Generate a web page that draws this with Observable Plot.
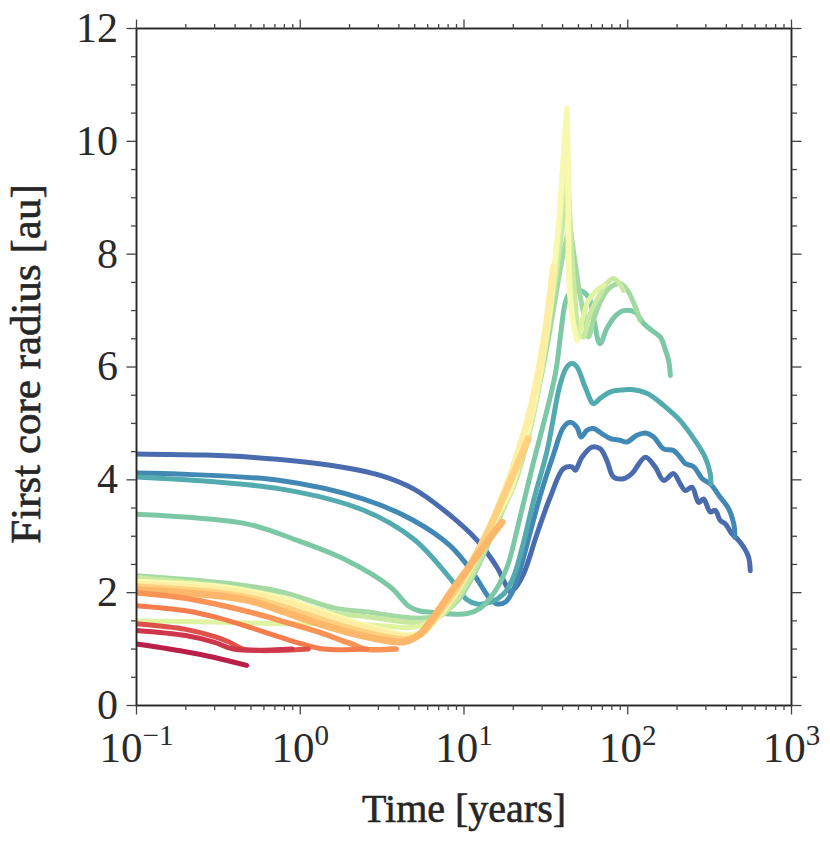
<!DOCTYPE html>
<html><head><meta charset="utf-8">
<script src="https://cdn.jsdelivr.net/npm/d3@7"></script>
<script src="https://cdn.jsdelivr.net/npm/@observablehq/plot@0.6"></script>
<style>body{margin:0;background:#fff}</style>
</head><body>
<div id="chart"></div>
<script>
// ---- data: time [years] and first core radius [au] per simulation ----
const dbT = [0.1, 0.25, 0.5, 1.52, 3.08, 4.92, 8.25, 12.0, 15.9, 18.0, 19.1, 20.5, 23.1, 27.9, 33.6, 40.5, 45.6, 47.8, 52.5, 60.4, 67.9, 74.6, 81.9, 94.3, 106, 128, 147, 165.5, 190.5, 209, 224.6, 246.6, 270.7, 290.4, 319, 342, 367, 394, 433, 464, 510, 547, 560];
const dbR = [4.46, 4.44, 4.40, 4.26, 4.08, 3.84, 3.37, 2.93, 2.45, 2.14, 2.02, 2.08, 2.33, 3.04, 3.69, 4.20, 4.23, 4.17, 4.40, 4.58, 4.55, 4.34, 4.05, 4.02, 4.11, 4.40, 4.23, 3.99, 4.11, 3.93, 3.81, 3.87, 3.60, 3.66, 3.43, 3.46, 3.28, 3.22, 3.04, 2.96, 2.81, 2.63, 2.39];

const bT = [0.1, 0.755, 2.44, 4.92, 8.25, 11.4, 13.2, 14.5, 16, 18, 20, 22, 24.5, 29.2, 35.2, 40.5, 44.5, 49, 51.9, 56.5, 61.8, 69.4, 78.5, 90, 98.6, 113.6, 128, 144, 165.5, 190.5, 209, 224.6, 253, 285, 319, 367, 413, 444, 451];
const bR = [4.12, 3.99, 3.66, 3.28, 2.83, 2.34, 2.05, 1.88, 1.80, 1.84, 2.05, 2.40, 2.90, 3.72, 4.45, 4.93, 5.02, 4.93, 4.76, 4.88, 4.91, 4.82, 4.73, 4.70, 4.67, 4.79, 4.83, 4.76, 4.55, 4.52, 4.40, 4.29, 4.23, 4.02, 3.93, 3.69, 3.49, 3.22, 2.98];

const tT = [0.1, 0.755, 2.44, 4.92, 8.25, 10.4, 12, 14.5, 17.5, 20, 23, 26.6, 32.2, 38.7, 42.5, 45.6, 49, 55, 61.8, 67.6, 78.5, 90, 103.7, 131.5, 165.5, 209, 253, 297, 319, 322];
const tR = [4.05, 3.84, 3.46, 2.95, 2.25, 1.88, 1.80, 1.83, 1.98, 2.27, 2.87, 3.63, 4.52, 5.70, 6.00, 6.06, 6.00, 5.64, 5.35, 5.44, 5.56, 5.59, 5.60, 5.53, 5.32, 5.05, 4.73, 4.40, 4.11, 3.93];

const gT = [0.1, 0.47, 0.95, 1.93, 3.55, 4.6, 5.3, 6.5, 8.5, 10.5, 12.5, 15.1, 18.3, 22, 26.5, 30, 33.5, 36.5, 39, 41.4, 44, 50, 57.6, 62, 67.6, 75, 85, 94.2, 111, 125, 140, 158, 170, 178, 182];
const gR = [3.39, 3.22, 2.93, 2.57, 2.10, 1.76, 1.68, 1.65, 1.62, 1.63, 1.72, 1.98, 2.45, 3.34, 4.30, 4.90, 5.45, 5.95, 6.60, 7.12, 7.30, 7.36, 7.24, 6.85, 6.41, 6.70, 6.92, 7.00, 6.97, 6.77, 6.65, 6.53, 6.30, 6.10, 5.85];

const l2T = [0.1, 0.4, 0.8, 1.6, 2.5, 5.0, 6.5, 8.0, 9.5, 11.5, 14, 17.5, 21, 25, 29, 33, 37, 41, 44.3, 45.6, 47.8, 51.3, 55, 57.6, 62, 68, 76, 90, 100, 110, 119];
const l2R = [2.30, 2.15, 2.00, 1.73, 1.66, 1.55, 1.57, 1.70, 1.92, 2.32, 2.85, 3.50, 4.05, 4.85, 5.70, 6.55, 7.40, 8.10, 8.45, 8.24, 7.83, 7.24, 6.83, 6.53, 6.85, 7.15, 7.38, 7.48, 7.35, 7.10, 6.83];

const l1T = [0.1, 0.37, 0.755, 1.52, 2.44, 4.9, 6.2, 7.5, 9, 11, 13.5, 16.5, 20.5, 24, 28, 32, 36, 40, 43, 44.6, 46, 48, 49.9, 53.5, 57, 61, 66.5, 73, 81.6, 88, 94.2];
const l1R = [2.27, 2.10, 1.92, 1.65, 1.58, 1.47, 1.50, 1.62, 1.88, 2.28, 2.80, 3.35, 3.95, 4.60, 5.50, 6.50, 7.50, 8.50, 9.20, 8.50, 7.80, 7.10, 6.65, 6.53, 6.80, 7.05, 7.24, 7.45, 7.57, 7.50, 7.36];

const ygT = [0.1, 0.3, 0.755, 1.5, 3, 4.5, 5.5, 6.5, 8.5, 10.3, 13, 16, 19.5, 22.5, 26, 30, 34, 37.5, 40.5, 42.8, 43.8, 44.8, 47, 49.5, 53, 57.6, 64, 71.6];
const ygR = [1.50, 1.48, 1.45, 1.45, 1.42, 1.38, 1.42, 1.55, 1.95, 2.30, 2.82, 3.35, 3.85, 4.45, 5.10, 6.00, 7.10, 8.20, 9.30, 9.90, 8.50, 7.30, 6.75, 6.50, 6.85, 7.18, 7.35, 7.45];

const y1T = [0.1, 0.3, 0.5, 0.87, 1.4, 2.2, 3.2, 4.5, 5.5, 6.4, 8.5, 10.2, 12.8, 15.5, 19.1, 22, 25.4, 29.2, 33, 36, 38.5, 40, 41.5, 42.5, 43.2, 43.6, 44.6, 46.9, 49];
const y1R = [2.20, 2.12, 2.02, 1.86, 1.66, 1.47, 1.34, 1.25, 1.30, 1.45, 1.90, 2.27, 2.80, 3.30, 3.80, 4.40, 5.05, 5.94, 6.90, 7.90, 8.80, 9.50, 10.20, 10.58, 9.00, 7.70, 7.18, 6.71, 6.47];

const y2T = [0.1, 0.3, 0.5, 0.87, 1.4, 2.2, 3.2, 4.5, 5.5, 6.3, 8.4, 10, 12.6, 15, 17.5, 20, 25, 28.6, 32, 35.2];
const y2R = [2.15, 2.06, 1.97, 1.80, 1.60, 1.42, 1.30, 1.21, 1.28, 1.45, 1.90, 2.26, 2.78, 3.28, 3.76, 4.22, 5.15, 5.94, 6.80, 7.77];

const o1T = [0.1, 0.3, 0.5, 0.87, 1.4, 2.2, 3.2, 4.5, 5.5, 6.3, 7.3, 8.6, 10.5, 13, 16, 19, 22, 24.7];
const o1R = [2.10, 2.00, 1.90, 1.70, 1.50, 1.33, 1.22, 1.17, 1.28, 1.47, 1.72, 2.00, 2.40, 2.90, 3.45, 3.95, 4.38, 4.73];

const o2T = [0.1, 0.3, 0.5, 0.87, 1.4, 2.2, 3.2, 4.3, 5.3, 6.2, 7.1, 8.5, 10.9, 14.5, 17.1];
const o2R = [2.05, 1.95, 1.85, 1.62, 1.42, 1.26, 1.16, 1.13, 1.25, 1.48, 1.72, 2.05, 2.48, 2.98, 3.25];

const o3T = [0.1, 0.2, 0.5, 0.87, 1.3, 1.8, 2.2, 2.45, 3.85];
const o3R = [2.00, 1.90, 1.65, 1.45, 1.30, 1.15, 1.06, 1.00, 1.00];

const o4T = [0.1, 0.2, 0.3, 0.5, 0.755, 1.0, 1.39, 2.55];
const o4R = [1.77, 1.68, 1.57, 1.38, 1.21, 1.10, 1.00, 1.00];

const r1T = [0.1, 0.2, 0.3, 0.37, 0.45, 1.12];
const r1R = [1.45, 1.35, 1.22, 1.12, 1.00, 1.00];

const r2T = [0.1, 0.2, 0.3, 0.39, 0.89];
const r2R = [1.33, 1.24, 1.12, 1.00, 1.00];

const cT = [0.1, 0.185, 0.3, 0.47];
const cR = [1.09, 0.97, 0.85, 0.71];

// series in drawing order, with their position on the Spectral colormap
const seriesData = [[dbT, dbR], [bT, bR], [tT, tR], [gT, gR], [l2T, l2R], [l1T, l1R], [ygT, ygR], [y1T, y1R], [y2T, y2R], [o1T, o1R], [o2T, o2R], [o3T, o3R], [o4T, o4R], [r1T, r1R], [r2T, r2R], [cT, cR]];
const seriesCmap = [0.95, 0.9, 0.84, 0.77, 0.71, 0.65, 0.6, 0.52, 0.45, 0.37, 0.32, 0.26, 0.22, 0.14, 0.09, 0.05];
const seriesWidth = [5, 5, 5, 5, 5, 5, 5, 5.5, 7, 7, 7, 5.5, 5, 5, 5, 5];

// axes
const xMajor = [0.1, 1, 10, 100, 1000];
const xMinor = [0.2,0.3,0.4,0.5,0.6,0.7,0.8,0.9, 2,3,4,5,6,7,8,9, 20,30,40,50,60,70,80,90, 200,300,400,500,600,700,800,900];
const yMajor = [0, 2, 4, 6, 8, 10, 12];
const yMinor = [0.5,1,1.5, 2.5,3,3.5, 4.5,5,5.5, 6.5,7,7.5, 8.5,9,9.5, 10.5,11,11.5];
const xLabel = "Time [years]";
const yLabel = "First core radius [au]";

const lineMarks = seriesData.map(([T, R], i) =>
  Plot.line(T.map((t, j) => ({t, r: R[j]})), {
    x: "t", y: "r",
    stroke: d3.interpolateSpectral(seriesCmap[i]),
    strokeWidth: seriesWidth[i],
    curve: "catmull-rom",
    strokeLinecap: "round", strokeLinejoin: "round",
    clip: true
  })
);

const tk = {stroke: "#444", strokeWidth: 1.3, label: null};
const empty = () => "";

const svg = Plot.plot({
  width: 830, height: 841,
  marginLeft: 136, marginRight: 39, marginTop: 28, marginBottom: 136,
  x: {type: "log", domain: [0.1, 1000], label: null},
  y: {domain: [0, 12], label: null},
  style: {fontFamily: "'Liberation Serif', 'DejaVu Serif', serif", background: "#fff", color: "#262626", overflow: "visible"},
  marks: [
    ...lineMarks,
    Plot.frame({stroke: "#262626", strokeWidth: 1.9}),
    Plot.axisX({anchor: "bottom", ticks: xMajor, tickSize: 9.5, tickPadding: 16, fontSize: 43, fill: "#2a2a2a",
      tickFormat: d => "10^" + Math.round(Math.log10(d)), ...tk}),
    Plot.axisX({anchor: "bottom", ticks: xMinor, tickSize: 5, tickFormat: empty, ...tk}),
    Plot.axisX({anchor: "top", ticks: xMajor, tickSize: 9.5, tickFormat: empty, ...tk}),
    Plot.axisX({anchor: "top", ticks: xMinor, tickSize: 5, tickFormat: empty, ...tk}),
    Plot.axisY({anchor: "left", ticks: yMajor, tickSize: 9.5, tickPadding: 9, fontSize: 42, fill: "#2a2a2a", tickFormat: d => String(d), ...tk}),
    Plot.axisY({anchor: "left", ticks: yMinor, tickSize: 5, tickFormat: empty, ...tk}),
    Plot.axisY({anchor: "right", ticks: yMajor, tickSize: 9.5, tickFormat: empty, ...tk}),
    Plot.axisY({anchor: "right", ticks: yMinor, tickSize: 5, tickFormat: empty, ...tk}),
    Plot.text([xLabel], {text: d => d, frameAnchor: "bottom", textAnchor: "middle", lineAnchor: "bottom", dy: 116, fontSize: 40, fill: "#262626", stroke: "#262626", strokeWidth: 0.6}),
    Plot.text([yLabel], {text: d => d, frameAnchor: "left", textAnchor: "middle", lineAnchor: "middle", rotate: -90, dx: -110, dy: -3, fontSize: 43, fill: "#262626", stroke: "#262626", strokeWidth: 0.6})
  ]
});

document.getElementById("chart").appendChild(svg);

// render x tick labels as 10 with a superscript exponent
d3.select(svg).selectAll('g[aria-label="x-axis tick label"] text').each(function () {
  const s = this.textContent;
  const m = s.match(/^10\^(-?\d+)$/);
  if (!m) return;
  const exp = m[1].replace("-", "\u2212");
  this.textContent = "";
  const el = d3.select(this);
  el.append("tspan").text("10");
  el.append("tspan").attr("dy", -17).attr("font-size", 29).text(exp);
});
</script>
</body></html>
